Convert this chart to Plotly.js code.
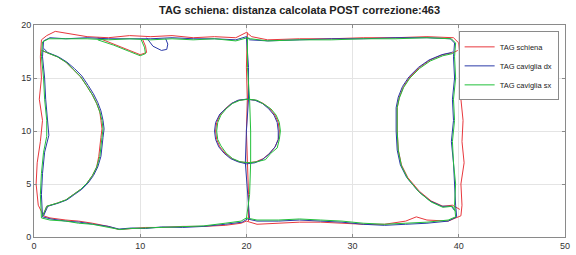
<!DOCTYPE html>
<html>
<head>
<meta charset="utf-8">
<script src="https://cdn.plot.ly/plotly-3.0.1.min.js"></script>
<style>html,body{margin:0;padding:0;background:#fff;}#chart{width:576px;height:255px;}</style>
</head>
<body>
<div id="chart"></div>
<script>
// Series names
const seriesNames = ["TAG schiena", "TAG caviglia dx", "TAG caviglia sx"];
const xTicks = [0, 10, 20, 30, 40, 50];
const yTicks = [0, 5, 10, 15, 20];

// TAG schiena (null = pen lifted between path pieces)
const schienaX = [
  0.9,1.5,3,4.2,5.5,7,8,9,10.5,12,14,16,18,19.5,20,21,23,25,27,29,31,33,35,36,37,39,40.2,
  40.3,40.2,40.5,40.3,40.4,40.2,40.3,40.1,40,39.5,
  37,34,31,28,25,22,20.5,20,19,17,15,13,11,9,7,5,3,2,1.2,0.7,
  0.6,0.7,0.5,0.8,0.6,0.3,0.2,0.4,0.9, null,
  20.2,20.2,20.1,20.0,20.1,20.0,20.1, null,
  20.1,20.9,21.6,22.2,22.7,23.0,23.1,23.0,22.7,22.2,21.6,20.9,20.1,19.3,18.6,18.0,17.5,17.2,17.1,17.2,17.5,18.0,18.6,19.3,20.1, null,
  0.7,1.2,2.2,3.0,3.7,4.4,5.0,5.5,5.9,6.2,6.3,6.4,6.3,6.2,6.1,5.9,5.5,5.0,4.4,3.7,3.0,2.2,1.2,0.9, null,
  39.9,39.5,38.5,37.3,36.3,35.4,34.8,34.4,34.2,34.2,34.2,34.3,34.6,35.2,36.3,37.4,38.5,39.4,40.1, null,
  6,7.5,9,10,10.6,10.5,10.2
];
const schienaY = [
  2.0,1.8,1.6,1.5,1.3,1.0,0.7,0.8,0.9,0.9,1.0,1.0,1.1,1.3,1.5,1.2,1.3,1.4,1.4,1.3,1.2,1.2,1.5,1.9,1.6,1.5,2.0,
  3,5,7,9,11,13,15,17,18.3,18.8,
  18.9,18.8,18.8,18.7,18.7,18.6,18.9,19.3,18.8,18.9,18.8,19.0,18.9,19.0,18.8,18.9,19.2,19.4,19.0,18.6,
  17,15,13,11,9,7,5,3,2.0, null,
  1.5,4,7,10,13,16,19.3, null,
  13.0,12.9,12.6,12.1,11.5,10.8,10.0,9.2,8.5,7.9,7.4,7.1,7.0,7.1,7.4,7.9,8.5,9.2,10.0,10.8,11.5,12.1,12.6,12.9,13.0, null,
  17.6,17.4,17.0,16.5,15.8,15.1,14.2,13.4,12.6,11.8,11.0,10.2,9.4,8.5,7.6,6.6,5.8,5.1,4.5,4.0,3.5,3.2,2.9,2.1, null,
  17.6,17.4,17.2,16.7,16.0,15.1,14.2,13.2,12.2,11.0,10.0,8.2,6.8,5.6,4.3,3.4,2.9,3.0,2.6, null,
  18.8,18.2,17.6,17.2,17.4,18.0,18.7
];

// TAG caviglia dx
const caviglia_dxX = [
  0.8,1.6,3,4.3,5.6,7,8,9.2,10.5,12,14,16,18,19.6,20.1,21,23,25,27,29,31,33,35,37,39,39.8,
  39.7,39.6,39.5,39.3,39.5,39.4,39.6,39.5,39.6,39.2,
  37,34,31,28,25,22,20.3,20,19,17,15,13,11,9,7,5,3,1.5,0.9,
  0.8,1.0,1.1,1.3,1.4,1.0,0.8,0.7,0.8, null,
  20.3,20.1,19.9,20.0,20.2,20.2,20.0, null,
  20.0,20.8,21.5,22.1,22.6,22.9,23.0,23.0,22.7,22.1,21.5,20.8,20.0,19.2,18.5,17.9,17.4,17.1,17.0,17.1,17.5,18.0,18.6,19.2,20.0, null,
  0.9,1.3,2.3,3.1,3.8,4.5,5.1,5.6,6.0,6.3,6.5,6.6,6.5,6.4,6.3,6.0,5.6,5.1,4.5,3.8,3.1,2.3,1.3,0.9, null,
  39.4,39.3,38.4,37.2,36.2,35.3,34.7,34.3,34.1,34.1,34.1,34.2,34.5,35.1,36.2,37.3,38.4,39.3,39.6, null,
  10.6,11.2,12.0,12.5,12.6,12.4
];
const caviglia_dxY = [
  1.9,1.7,1.5,1.4,1.2,1.0,0.75,0.85,0.8,0.95,0.9,1.0,1.2,1.4,1.7,1.5,1.5,1.6,1.5,1.4,1.2,1.1,1.2,1.3,1.5,1.9,
  3,5,7,9,11,13,15,17,18.3,18.7,
  18.8,18.8,18.7,18.7,18.6,18.5,18.6,18.9,18.6,18.7,18.7,18.8,18.7,18.7,18.7,18.8,18.7,18.8,18.5,
  17,15,13,11,9.6,8,6,4,1.9, null,
  1.7,4,7,10,13,16,18.9, null,
  13.0,12.9,12.6,12.1,11.5,10.8,10.0,9.2,8.5,7.8,7.3,7.0,6.9,7.1,7.4,7.9,8.5,9.2,10.0,10.8,11.6,12.1,12.6,12.9,13.0, null,
  17.8,17.4,17.0,16.5,15.9,15.2,14.3,13.5,12.7,11.9,11.0,10.2,9.4,8.4,7.6,6.6,5.8,5.1,4.5,4.0,3.5,3.2,2.9,2.0, null,
  17.5,17.4,17.2,16.7,16.0,15.1,14.2,13.2,12.2,11.0,10.0,8.2,6.8,5.6,4.3,3.4,2.9,2.9,2.5, null,
  18.8,18.0,17.6,17.7,18.2,18.7
];

// TAG caviglia sx
const caviglia_sxX = [
  0.7,1.5,3,4.2,5.5,7,8.1,9.1,10.4,12,14,16,18,19.5,20.0,21,23,25,27,29,31,33,35,37,39,39.7,
  39.6,39.7,39.5,39.4,39.6,39.5,39.7,39.6,39.7,39.3,
  37,34,31,28,25,22,20.4,20.1,19,17,15,13,11,9,7,5,3,1.4,0.8,
  0.7,0.9,1.0,1.2,1.2,0.9,0.7,0.6,0.7, null,
  20.0,20.3,20.4,20.4,20.3,20.1,20.1, null,
  20.2,21.0,21.7,22.3,22.8,23.1,23.2,23.1,22.9,22.3,21.8,21.0,20.3,19.4,18.7,18.1,17.6,17.3,17.2,17.3,17.6,18.1,18.7,19.4,20.2, null,
  0.8,1.2,2.2,3.0,3.7,4.4,5.0,5.5,5.9,6.2,6.4,6.5,6.4,6.3,6.2,5.9,5.5,5.0,4.4,3.7,3.0,2.2,1.2,0.8, null,
  39.5,39.4,38.5,37.3,36.3,35.4,34.8,34.4,34.2,34.2,34.2,34.3,34.6,35.2,36.3,37.4,38.5,39.4,39.7, null,
  6,7.5,9,10,10.5,10.4,10.1
];
const caviglia_sxY = [
  1.8,1.6,1.5,1.3,1.2,0.95,0.7,0.8,0.85,0.9,0.95,1.05,1.3,1.5,1.8,1.6,1.6,1.7,1.6,1.5,1.3,1.2,1.3,1.4,1.6,1.9,
  3,5,7,9,11,13,15,17,18.3,18.7,
  18.8,18.7,18.7,18.6,18.6,18.5,18.7,18.8,18.5,18.7,18.6,18.7,18.6,18.7,18.6,18.7,18.7,18.7,18.4,
  17,15,13,11,9.5,8,6,4,1.8, null,
  1.7,4,7,10,13,16,18.8, null,
  13.0,12.9,12.5,12.1,11.5,10.8,10.0,9.2,8.4,7.9,7.3,7.1,7.0,7.1,7.4,7.9,8.6,9.2,10.0,10.8,11.5,12.1,12.6,12.9,13.0, null,
  17.6,17.4,17.0,16.5,15.8,15.1,14.2,13.4,12.6,11.8,11.0,10.2,9.4,8.5,7.6,6.6,5.8,5.1,4.5,4.0,3.5,3.2,2.9,2.0, null,
  17.4,17.3,17.1,16.6,15.9,15.0,14.1,13.1,12.2,11.0,10.0,8.2,6.7,5.5,4.2,3.3,2.8,2.9,2.4, null,
  18.6,18.1,17.5,17.1,17.3,17.9,18.6
];

const colors = ["#e8383d", "#2b3aa8", "#22c03a"];
const xs = [schienaX, caviglia_dxX, caviglia_sxX];
const ys = [schienaY, caviglia_dxY, caviglia_sxY];

const traces = seriesNames.map((n, i) => ({
  type: "scatter", mode: "lines", name: n,
  x: xs[i], y: ys[i], connectgaps: false,
  line: {color: colors[i], width: 1}
}));

const axisCommon = {
  showgrid: true, gridcolor: "#e4e4e4", gridwidth: 1,
  zeroline: false, showline: true, mirror: "ticks", linecolor: "#8a8a8a", linewidth: 1,
  ticks: "inside", ticklen: 3, tickcolor: "#8a8a8a",
  tickfont: {family: "Liberation Sans, Arial, sans-serif", size: 9, color: "#333"}
};

const layout = {
  width: 576, height: 255,
  margin: {l: 34, r: 11, t: 25, b: 18, pad: 0},
  paper_bgcolor: "#fff", plot_bgcolor: "#fff",
  title: {
    text: "<b>TAG schiena: distanza calcolata POST correzione:463</b>",
    font: {family: "Liberation Sans, Arial, sans-serif", size: 11, color: "#222"},
    x: 0.52, xanchor: "center", y: 0.975, yanchor: "top"
  },
  xaxis: Object.assign({}, axisCommon, {range: [0, 50], tickvals: xTicks, ticktext: xTicks.map(String)}),
  yaxis: Object.assign({}, axisCommon, {range: [0, 20], tickvals: yTicks, ticktext: yTicks.map(String)}),
  showlegend: true,
  legend: {
    x: 0.988, xanchor: "right", y: 0.97, yanchor: "top",
    bgcolor: "#fff", bordercolor: "#8a8a8a", borderwidth: 1,
    font: {family: "Liberation Sans, Arial, sans-serif", size: 7.5, color: "#222"},
    itemwidth: 30, tracegroupgap: 0
  }
};

Plotly.newPlot("chart", traces, layout, {displayModeBar: false, staticPlot: true});
</script>
</body>
</html>
